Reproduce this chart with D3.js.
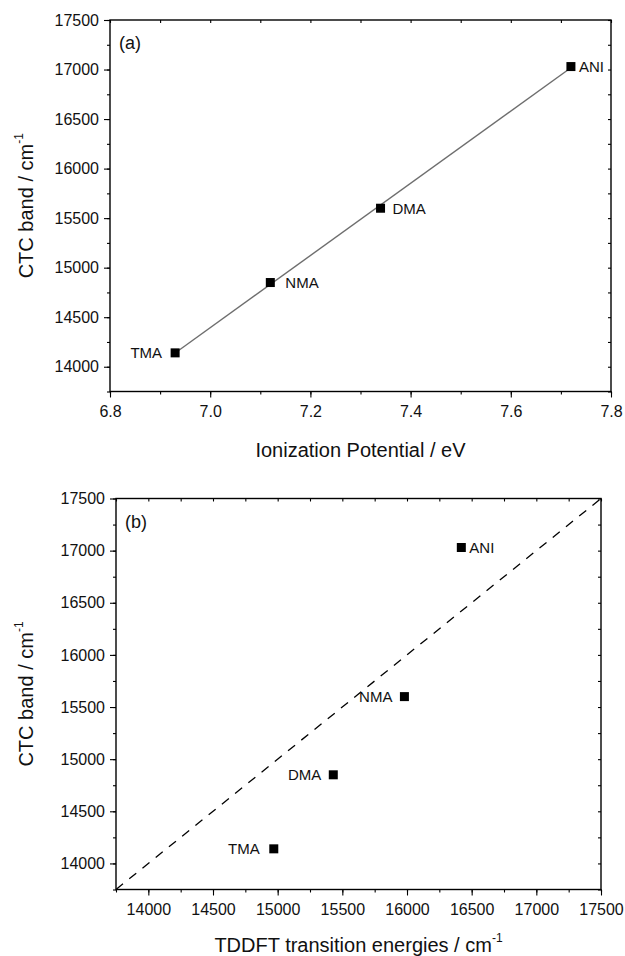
<!DOCTYPE html>
<html>
<head>
<meta charset="utf-8">
<script src="https://cdn.jsdelivr.net/npm/d3@7"></script>
<style>
  body { margin: 0; background: #fff; }
  svg { display: block; font-family: "Liberation Sans", Arial, sans-serif; }
</style>
</head>
<body>
<div id="chart"></div>
<script>
// panel (a): CTC band vs ionization potential
const amines = ["TMA", "NMA", "DMA", "ANI"];
const ionizationPotential = [6.93, 7.12, 7.34, 7.72];
const ctcBandA = [14140, 14850, 15600, 17030];
const ipTicks = [6.8, 7.0, 7.2, 7.4, 7.6, 7.8];

// panel (b): CTC band vs TDDFT transition energies
const aminesB = ["TMA", "DMA", "NMA", "ANI"];
const tddftEnergy = [14970, 15430, 15980, 16420];
const ctcBandB = [14140, 14850, 15600, 17030];
const wavenumberTicks = [14000, 14500, 15000, 15500, 16000, 16500, 17000, 17500];

const width = 625, height = 956;

const svg = d3.select("#chart")
    .append("svg")
    .attr("width", width)
    .attr("height", height);

function drawPanel(opts) {
    const { left, right, top, bottom } = opts.box;
    const x = d3.scaleLinear().domain(opts.xDomain).range([left, right]);
    const y = d3.scaleLinear().domain(opts.yDomain).range([bottom, top]);
    const g = svg.append("g");

    // minor + major ticks
    const xMinor = d3.range(opts.xDomain[0], opts.xDomain[1] + 1e-9, opts.xMinorStep)
        .map(v => +v.toFixed(4))
        .filter(v => v >= opts.xDomain[0] - 1e-9);
    const yMinor = d3.range(Math.ceil(opts.yDomain[0] / 250) * 250, opts.yDomain[1] + 1, 250);

    g.append("g")
        .attr("transform", `translate(0,${bottom})`)
        .call(d3.axisBottom(x).tickValues(xMinor).tickSize(3).tickFormat(""))
        .call(a => a.select(".domain").remove());
    g.append("g")
        .attr("transform", `translate(${left},0)`)
        .call(d3.axisLeft(y).tickValues(yMinor).tickSize(3).tickFormat(""))
        .call(a => a.select(".domain").remove());

    const xAxis = g.append("g")
        .attr("transform", `translate(0,${bottom})`)
        .call(d3.axisBottom(x).tickValues(opts.xTicks).tickSize(6).tickPadding(8)
            .tickFormat(opts.xFormat));
    const yAxis = g.append("g")
        .attr("transform", `translate(${left},0)`)
        .call(d3.axisLeft(y).tickValues(opts.yTicks).tickSize(6).tickPadding(5)
            .tickFormat(d3.format("d")));

    // mirrored ticks on top and right
    g.append("g")
        .attr("transform", `translate(0,${top})`)
        .call(d3.axisTop(x).tickValues(xMinor).tickSize(-3).tickFormat(""))
        .call(a => a.select(".domain").remove());
    g.append("g")
        .attr("transform", `translate(${right},0)`)
        .call(d3.axisRight(y).tickValues(yMinor).tickSize(-3).tickFormat(""))
        .call(a => a.select(".domain").remove());

    [xAxis, yAxis].forEach(a => {
        a.select(".domain").remove();
        a.selectAll("text").attr("font-size", 16).attr("fill", "#111")
            .attr("font-family", "Liberation Sans, Arial, sans-serif");
    });
    g.selectAll(".tick line").attr("stroke", "#000").attr("stroke-width", 1.1);

    // frame
    g.append("rect")
        .attr("x", left).attr("y", top)
        .attr("width", right - left).attr("height", bottom - top)
        .attr("fill", "none").attr("stroke", "#000").attr("stroke-width", 1.4);

    opts.extra(g, x, y);

    // markers
    const pts = opts.names.map((n, i) => ({ name: n, x: opts.xs[i], y: opts.ys[i], dx: opts.labelDx[i] }));
    g.selectAll("rect.pt")
        .data(pts)
        .enter()
        .append("rect")
        .attr("class", "pt")
        .attr("x", d => x(d.x) - 4.5)
        .attr("y", d => y(d.y) - 4.5)
        .attr("width", 9)
        .attr("height", 9)
        .attr("fill", "#000");

    g.selectAll("text.lbl")
        .data(pts)
        .enter()
        .append("text")
        .attr("class", "lbl")
        .attr("x", d => x(d.x) + d.dx)
        .attr("y", d => y(d.y))
        .attr("dy", "0.36em")
        .attr("text-anchor", d => d.dx < 0 ? "end" : "start")
        .attr("font-size", 15)
        .attr("fill", "#111")
        .text(d => d.name);

    // panel tag
    g.append("text")
        .attr("x", left + 9)
        .attr("y", top + 29)
        .attr("font-size", 18)
        .attr("fill", "#111")
        .text(opts.tag);

    // x title
    const xt = g.append("text")
        .attr("x", (left + right) / 2)
        .attr("y", opts.xTitleY)
        .attr("text-anchor", "middle")
        .attr("font-size", 20)
        .attr("fill", "#111");
    xt.append("tspan").text(opts.xTitle);
    if (opts.xSup) {
        xt.append("tspan").attr("font-size", 12).attr("dy", -10).text(opts.xSup);
    }

    // y title
    const yt = g.append("text")
        .attr("transform", `translate(33,${(top + bottom) / 2}) rotate(-90)`)
        .attr("text-anchor", "middle")
        .attr("font-size", 20)
        .attr("fill", "#111");
    yt.append("tspan").text("CTC band / cm");
    yt.append("tspan").attr("font-size", 12).attr("dy", -10).text("-1");
}

drawPanel({
    box: { left: 110, right: 611, top: 20, bottom: 391.5 },
    xDomain: [6.8, 7.8],
    yDomain: [13750, 17500],
    xTicks: ipTicks,
    xMinorStep: 0.1,
    xFormat: d3.format(".1f"),
    yTicks: wavenumberTicks,
    names: amines,
    xs: ionizationPotential,
    ys: ctcBandA,
    labelDx: [-13, 15, 12, 8],
    tag: "(a)",
    xTitle: "Ionization Potential / eV",
    xTitleY: 457,
    extra: (g, x, y) => {
        // least-squares line through the points
        const mx = d3.mean(ionizationPotential), my = d3.mean(ctcBandA);
        const sxy = d3.sum(ionizationPotential, (v, i) => (v - mx) * (ctcBandA[i] - my));
        const sxx = d3.sum(ionizationPotential, v => (v - mx) * (v - mx));
        const slope = sxy / sxx;
        const ext = d3.extent(ionizationPotential);
        g.append("line")
            .attr("x1", x(ext[0])).attr("y1", y(my + slope * (ext[0] - mx)))
            .attr("x2", x(ext[1])).attr("y2", y(my + slope * (ext[1] - mx)))
            .attr("stroke", "#6e6e6e")
            .attr("stroke-width", 1.4);
    }
});

drawPanel({
    box: { left: 116, right: 601, top: 498.5, bottom: 889.5 },
    xDomain: [13750, 17500],
    yDomain: [13750, 17500],
    xTicks: wavenumberTicks,
    xMinorStep: 250,
    xFormat: d3.format("d"),
    yTicks: wavenumberTicks,
    names: aminesB,
    xs: tddftEnergy,
    ys: ctcBandB,
    labelDx: [-14, -12, -12, 8],
    tag: "(b)",
    xTitle: "TDDFT transition energies / cm",
    xSup: "-1",
    xTitleY: 952,
    extra: (g, x, y) => {
        // y = x reference line
        g.append("line")
            .attr("x1", x(13750)).attr("y1", y(13750))
            .attr("x2", x(17500)).attr("y2", y(17500))
            .attr("stroke", "#000")
            .attr("stroke-width", 1.3)
            .attr("stroke-dasharray", "9,8");
    }
});
</script>
</body>
</html>
